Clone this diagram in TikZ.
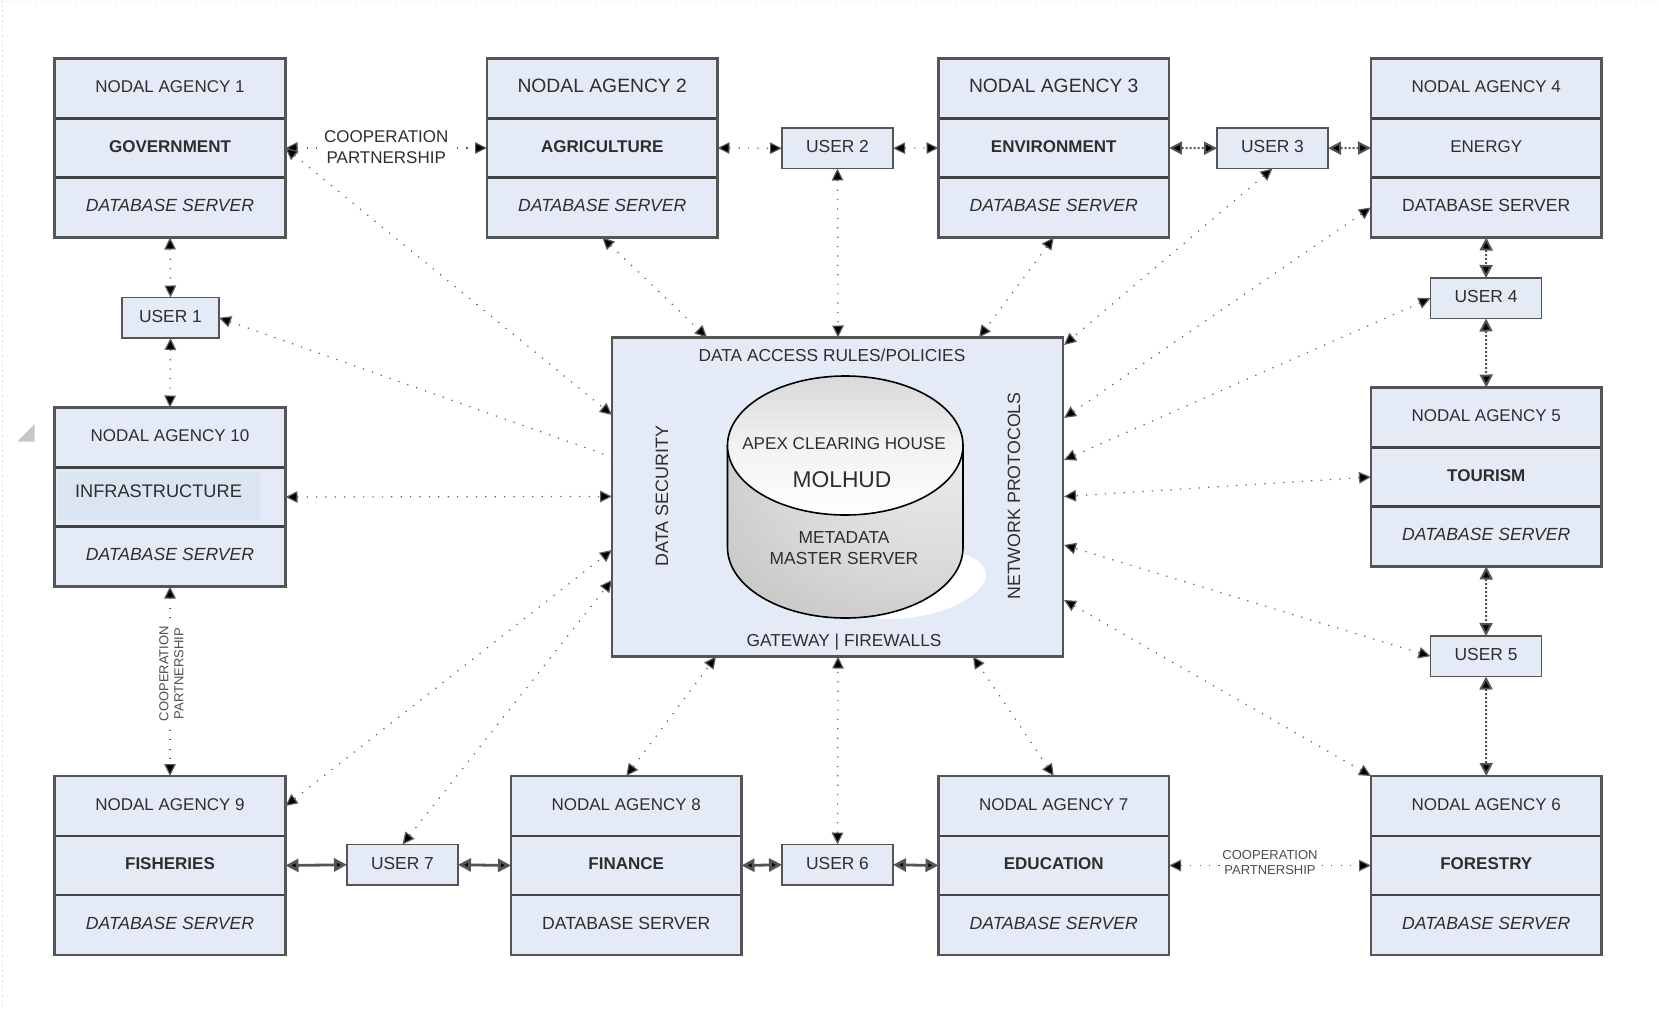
\documentclass[tikz,border=0pt]{standalone}
\usepackage{fontspec}
\setmainfont{Liberation Sans}
\usetikzlibrary{arrows.meta,calc}
\definecolor{panel}{HTML}{E4EAF6}
\definecolor{panelb}{HTML}{DBE5F1}
\definecolor{edge}{HTML}{555555}
\definecolor{sepc}{HTML}{444444}
\definecolor{ink}{HTML}{2E2E2E}
\definecolor{dotc}{HTML}{5C5C5C}
\pgfdeclareradialshading{cylbody}{\pgfpoint{0.85cm}{0.9cm}}{color(0bp)=(white!93!black); color(30bp)=(white!85!black); color(55bp)=(white!75!black); color(100bp)=(white!58!black)}
\tikzset{
  cell/.style={fill=panel,anchor=north west,outer sep=0pt,inner sep=0pt,minimum width=#1,align=center,text=ink,font=\fontsize{17}{18}\selectfont,text height=11.5pt,text depth=3.5pt},
  userbox/.style={draw=edge,line width=1.9pt,fill=panel,anchor=north west,outer sep=0pt,inner sep=0pt,minimum height=40.5pt,text=ink,font=\fontsize{17.4}{18}\selectfont,text height=12.5pt,text depth=4pt},
  tipa/.tip={Triangle[length=12pt,width=11.5pt,fill=black]},
  tipb/.tip={Triangle[length=13pt,width=13pt,fill=black]},
  link/.style={draw=dotc,line width=1.2pt,dash pattern=on 1.2pt off 8.2pt,tipa-tipa},
  linkend/.style={draw=dotc,line width=1.2pt,dash pattern=on 1.2pt off 8.2pt,tipa-},
  linkdense/.style={draw=edge,line width=2pt,dash pattern=on 2pt off 2pt,tipb-tipb},
  linksolid/.style={draw=edge,line width=2.8pt,tipb-tipb},
  lbl/.style={fill=white,inner sep=2pt,align=center,text=ink,font=\fontsize{17}{20.5}\selectfont},
  lblsmall/.style={fill=white,inner sep=1pt,align=center,text=ink!85,font=\fontsize{13}{15}\selectfont},
  hubtext/.style={text=ink,font=\fontsize{17.3}{20}\selectfont,inner sep=0pt,align=center},
}
% name, x, y, width, title, middle text, lower text
\newcommand{\agencybox}[7]{%
  \node[cell=#4,minimum height=60pt] (#1t) at (#2,#3) {#5};
  \node[cell=#4,minimum height=59pt] (#1m) at (#2,#3+60) {#6};
  \node[cell=#4,minimum height=60pt] (#1b) at (#2,#3+119) {#7};
  \draw[sepc,line width=2.2pt] (#1m.north west) -- (#1m.north east) (#1b.north west) -- (#1b.north east);
  \draw[edge,line width=2.4pt] (#1t.north west) rectangle (#1b.south east);
}
\newcommand{\bm}[1]{\textbf{#1}}
\newcommand{\dbi}{{\fontsize{17.6}{18}\selectfont\textit{DATABASE SERVER}}}
\newcommand{\dbr}{{\fontsize{17.6}{18}\selectfont DATABASE SERVER}}
\newcommand{\bigt}[1]{{\fontsize{19.3}{20}\selectfont #1}}
\begin{document}
\begin{tikzpicture}[x=1pt,y=-1pt]
\useasboundingbox (0,0) rectangle (1659,1009);
\fill[white] (0,0) rectangle (1659,1009);
\draw[black!12,line width=0.8pt,dash pattern=on 2pt off 3pt] (2,0) -- (2,1009);
\draw[black!8,line width=0.8pt,dash pattern=on 2pt off 3pt] (0,1) -- (1659,1);
\fill[black!22] (17.5,441.5) -- (34.5,441.5) -- (34.5,424) -- cycle;

\agencybox{aa}{54.5}{58.5}{231}{NODAL AGENCY 1}{\bm{GOVERNMENT}}{\dbi}
\agencybox{ab}{487}{58.5}{230.5}{\bigt{NODAL AGENCY 2}}{\bm{AGRICULTURE}}{\dbi}
\agencybox{ac}{938.5}{58.5}{230.5}{\bigt{NODAL AGENCY 3}}{\bm{ENVIRONMENT}}{\dbi}
\agencybox{ad}{1371}{58.5}{230.5}{NODAL AGENCY 4}{ENERGY}{\dbr}
\agencybox{ae}{1371}{387.5}{230.5}{NODAL AGENCY 5}{\bm{TOURISM}}{\dbi}
\agencybox{af}{1371}{776}{230.5}{NODAL AGENCY 6}{\bm{FORESTRY}}{\dbi}
\agencybox{ag}{938.5}{776}{230.5}{NODAL AGENCY 7}{\bm{EDUCATION}}{\dbi}
\agencybox{ah}{511}{776}{230.5}{NODAL AGENCY 8}{\bm{FINANCE}}{\dbr}
\agencybox{ai}{54.5}{776}{231}{NODAL AGENCY 9}{\bm{FISHERIES}}{\dbi}
\agencybox{aj}{54.5}{407.5}{231}{NODAL AGENCY 10}{}{\dbi}
\fill[panelb] (58,472) rectangle (260,520);
\node[anchor=center,inner sep=0pt,text=ink,font=\fontsize{18.2}{22}\selectfont] (infra) at (158.5,491) {INFRASTRUCTURE};

\node[userbox,minimum width=97pt] (ua) at (122,297.5) {USER 1};
\node[userbox,minimum width=111pt] (ub) at (782,128) {USER 2};
\node[userbox,minimum width=111pt] (uc) at (1217,128) {USER 3};
\node[userbox,minimum width=111pt] (ud) at (1430.5,278) {USER 4};
\node[userbox,minimum width=111pt] (ue) at (1430.5,636) {USER 5};
\node[userbox,minimum width=111pt] (uf) at (782,844.5) {USER 6};
\node[userbox,minimum width=111pt] (ug) at (347,844.5) {USER 7};

% central panel
\node[draw=edge,line width=2.2pt,fill=panel,anchor=north west,outer sep=0pt,minimum width=451pt,minimum height=319pt,inner sep=0pt] (hub) at (612,337.5) {};
\fill[white] (955,552) .. controls (985,558) and (996,575) .. (975,593) .. controls (955,610) and (920,620) .. (880,619) -- (850,600) -- cycle;
\path[shade,shading=cylbody,draw=black,line width=1.6pt] (727.5,445.5) -- (727.5,547.5) arc[start angle=180,end angle=0,x radius=117.75,y radius=70.5] -- (963,445.5) -- cycle;
\draw[line width=1.6pt,top color=black!15,bottom color=white,middle color=white!95!black] (845.25,445.5) ellipse[x radius=117.75,y radius=69.5];

\node[hubtext] (hubtop) at (832,355) {DATA ACCESS RULES/POLICIES};
\node[hubtext] (hubbot) at (844,642) {GATEWAY | FIREWALLS};
\node[hubtext,rotate=90,font=\fontsize{17.9}{20}\selectfont] (hubleft) at (662,496) {DATA SECURITY};
\node[hubtext,rotate=90,font=\fontsize{17.8}{20}\selectfont] (hubright) at (1014,496) {NETWORK PROTOCOLS};
\node[hubtext,font=\fontsize{17.1}{20}\selectfont] (apex) at (844,444) {APEX CLEARING HOUSE};
\node[hubtext,font=\fontsize{22.8}{26}\selectfont] (molhud) at (842,480) {MOLHUD};
\node[hubtext,font=\fontsize{17.4}{21}\selectfont] (meta) at (844,548) {METADATA\\MASTER SERVER};

% attachment points on the central panel
\coordinate (lA) at (hub.west |- 0,415);
\coordinate (lB) at (hub.west |- 0,457);
\coordinate (lC) at (hub.west |- 0,496.5);
\coordinate (lD) at (hub.west |- 0,550);
\coordinate (lE) at (hub.west |- 0,580);
\coordinate (tA) at (hub.north -| 707,0);
\coordinate (tB) at (hub.north -| 838,0);
\coordinate (tC) at (hub.north -| 979,0);
\coordinate (rA) at ($(hub.east |- 0,345)+(1,0)$);
\coordinate (rB) at ($(hub.east |- 0,418)+(1,0)$);
\coordinate (rC) at ($(hub.east |- 0,460)+(1,0)$);
\coordinate (rD) at ($(hub.east |- 0,496.5)+(1,0)$);
\coordinate (rE) at ($(hub.east |- 0,545)+(1,0)$);
\coordinate (rF) at ($(hub.east |- 0,600)+(1,0)$);
\coordinate (bA) at (hub.south -| 716,0);
\coordinate (bB) at (hub.south -| 838,0);
\coordinate (bC) at (hub.south -| 973,0);

% connectors
\draw[link] (aam.east) -- node[lbl,yshift=1pt] (lab1) {COOPERATION\\PARTNERSHIP} (abm.west);
\draw[link] (aam.east) -- (lA);
\draw[link] (abb.south) -- (tA);
\draw[link] (abm.east) -- (ub.west);
\draw[link] (ub.east) -- (acm.west);
\draw[link] (ub.south) -- (tB);
\draw[link] (acb.south) -- (tC);
\draw[linkdense] (acm.east) -- (uc.west);
\draw[linkdense] (uc.east) -- (adm.west);
\draw[link] (uc.south) -- (rA);
\draw[link] (adb.west) -- (rB);
\draw[linkdense] (adb.south) -- (ud.north);
\draw[link] (ud.west) -- (rC);
\draw[linkdense] (ud.south) -- (aet.north);
\draw[link] (aem.west) -- (rD);
\draw[linkdense] (aeb.south) -- (ue.north);
\draw[link] (ue.west) -- (rE);
\draw[linkdense] (ue.south) -- (aft.north);
\draw[link] (aft.north west) -- (rF);
\draw[link] (agm.east) -- node[lblsmall,yshift=3pt] (lab2) {COOPERATION\\PARTNERSHIP} (afm.west);
\draw[link] (agt.north) -- (bC);
\draw[linksolid] (uf.east) -- (agm.west);
\draw[link] (uf.north) -- (bB);
\draw[linksolid] (ahm.east) -- (uf.west);
\draw[link] (aht.north) -- (bA);
\draw[linksolid] (ug.east) -- (ahm.west);
\draw[link] (ug.north) -- (lE);
\draw[linksolid] (aim.east) -- (ug.west);
\draw[link] (ait.east) -- (lD);
\draw[link] (ajb.south) -- node[lblsmall,pos=.46,rotate=90,yshift=-1.5pt] (lab3) {COOPERATION\\PARTNERSHIP} (ait.north);
\draw[link] (ajm.east) -- (lC);
\draw[link] (ua.south) -- (ajt.north);
\draw[linkend] (ua.east) -- (lB);
\draw[link] (aab.south) -- (ua.north);
\end{tikzpicture}
\end{document}
